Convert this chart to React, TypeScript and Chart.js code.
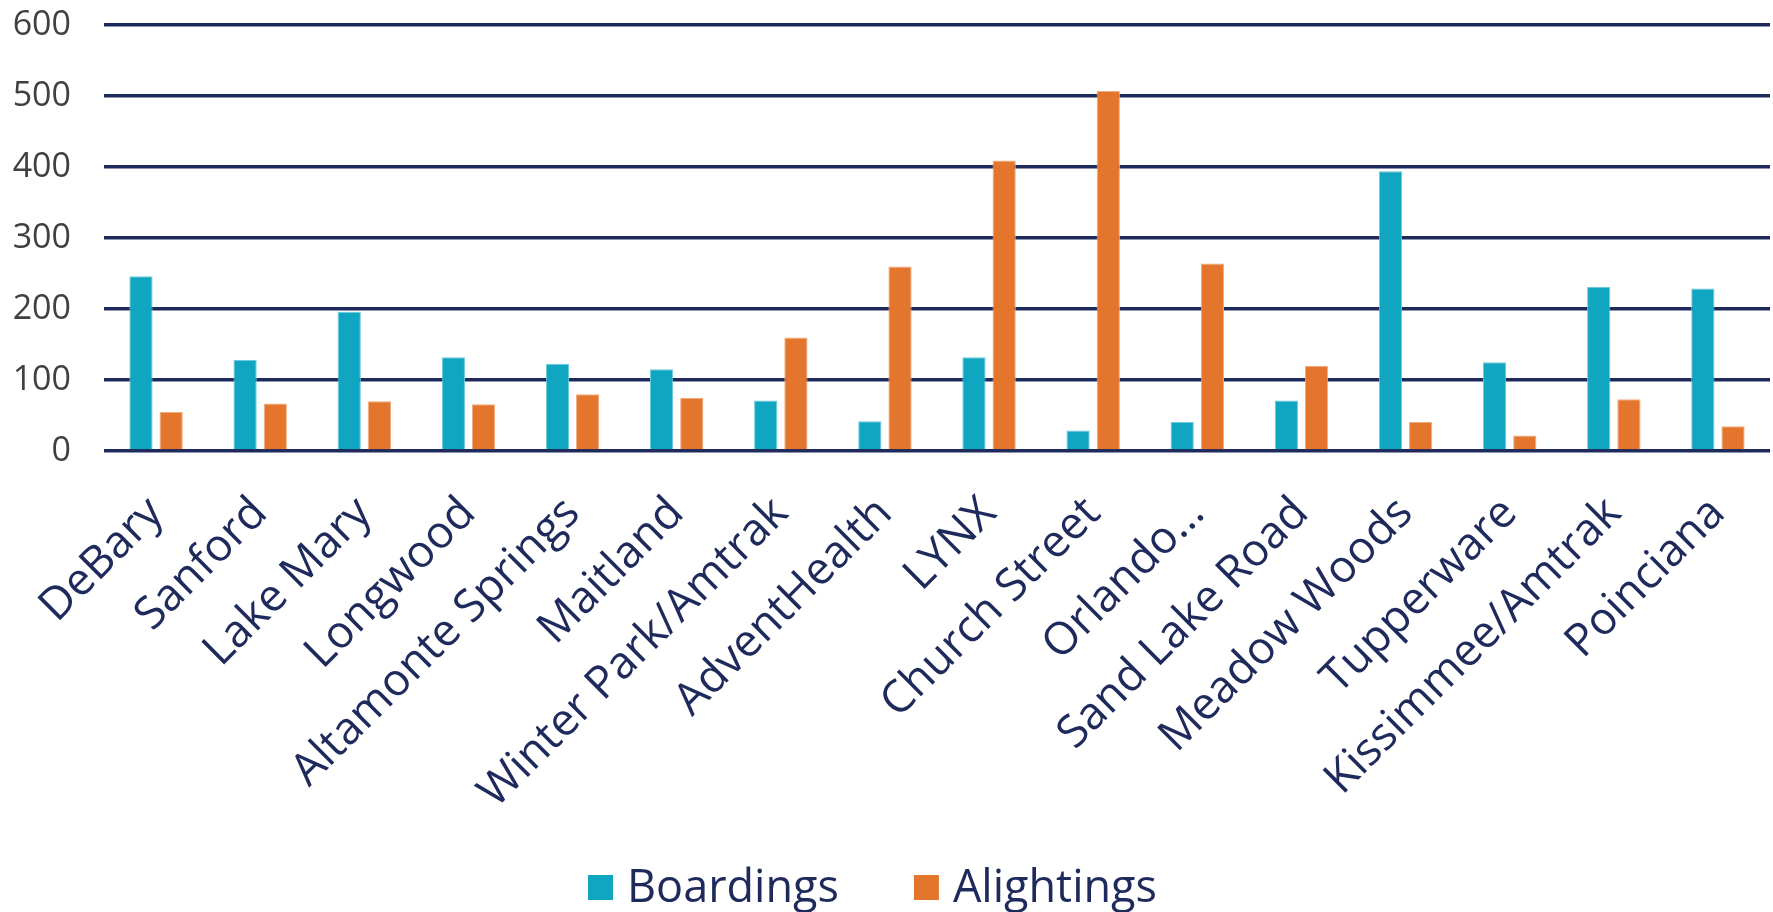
import React, { useEffect, useRef } from "react";
import { Chart, registerables } from "chart.js";

Chart.register(...registerables);

const stations = [
  "DeBary",
  "Sanford",
  "Lake Mary",
  "Longwood",
  "Altamonte Springs",
  "Maitland",
  "Winter Park/Amtrak",
  "AdventHealth",
  "LYNX",
  "Church Street",
  "Orlando…",
  "Sand Lake Road",
  "Meadow Woods",
  "Tupperware",
  "Kissimmee/Amtrak",
  "Poinciana",
];

const boardings = [246, 128, 196, 132, 123, 115, 71, 42, 132, 29, 41, 71, 394, 125, 231, 229];
const alightings = [55, 67, 70, 66, 80, 75, 160, 260, 409, 507, 264, 120, 41, 22, 73, 35];

const yTicks = [0, 100, 200, 300, 400, 500, 600];

const NAVY = "#1F2A5C";
const TEAL = "#10A6C1";
const TEAL_EDGE = "#6CCBDB";
const ORANGE = "#E4752C";
const ORANGE_EDGE = "#F0AC7E";
const FONT = "'Open Sans', 'DejaVu Sans', sans-serif";

// Legend drawn on the chart canvas from the datasets' own labels/colours
const legendPlugin = {
  id: "bottomLegend",
  afterDraw(chart: any) {
    const ctx = chart.ctx as CanvasRenderingContext2D;
    ctx.save();
    ctx.font = `45px ${FONT}`;
    const items = chart.data.datasets.map((ds: any) => ({
      text: ds.label as string,
      color: ds.backgroundColor as string,
      w: ctx.measureText(ds.label).width,
    }));
    const box = 25;
    const textGap = 14;
    const itemGap = 75;
    const total =
      items.reduce((s: number, it: any) => s + box + textGap + it.w, 0) + itemGap * (items.length - 1);
    let x = chart.width / 2 - 14 - total / 2;
    const boxTop = 875;
    const baseline = 902;
    items.forEach((it: any) => {
      ctx.fillStyle = it.color;
      ctx.fillRect(x, boxTop, box, box);
      x += box + textGap;
      ctx.fillStyle = NAVY;
      ctx.textAlign = "left";
      ctx.textBaseline = "alphabetic";
      ctx.fillText(it.text, x, baseline);
      x += it.w + itemGap;
    });
    ctx.restore();
  },
};

export default function App() {
  const ref = useRef<HTMLCanvasElement | null>(null);

  useEffect(() => {
    if (!ref.current) return;
    const chart = new Chart(ref.current, {
      type: "bar",
      data: {
        labels: stations,
        datasets: [
          {
            label: "Boardings",
            data: boardings,
            backgroundColor: TEAL,
            borderColor: TEAL_EDGE,
            borderWidth: { top: 1, left: 1, right: 1, bottom: 0 },
            borderSkipped: "start",
            categoryPercentage: 0.58,
            barPercentage: 0.77,
          },
          {
            label: "Alightings",
            data: alightings,
            backgroundColor: ORANGE,
            borderColor: ORANGE_EDGE,
            borderWidth: { top: 1, left: 1, right: 1, bottom: 0 },
            borderSkipped: "start",
            categoryPercentage: 0.58,
            barPercentage: 0.77,
          },
        ],
      },
      plugins: [legendPlugin],
      options: {
        responsive: false,
        animation: false,
        layout: { padding: { top: 25, right: 3, left: 0, bottom: 100 } },
        plugins: {
          tooltip: { enabled: false },
          legend: { display: false },
        },
        scales: {
          x: {
            grid: { display: false, drawTicks: false },
            border: { display: false },
            ticks: {
              autoSkip: false,
              maxRotation: 45,
              minRotation: 45,
              padding: 36,
              color: NAVY,
              font: { family: FONT, size: 45 },
            },
            afterFit: (scale: any) => {
              scale.height = 361;
              scale.paddingLeft = 0;
              scale.paddingRight = 0;
            },
          },
          y: {
            min: 0,
            max: 600,
            afterBuildTicks: (scale: any) => {
              scale.ticks = yTicks.map((v) => ({ value: v }));
            },
            grid: { color: NAVY, lineWidth: 3.5, drawTicks: false },
            border: { display: false },
            ticks: {
              padding: 33,
              color: "#404040",
              font: { family: FONT, size: 34 },
            },
            afterFit: (scale: any) => {
              scale.width = 104;
              scale.paddingTop = 0;
              scale.paddingBottom = 0;
            },
          },
        },
      },
    });
    return () => chart.destroy();
  }, []);

  return (
    <div style={{ position: "absolute", left: 0, top: 0, width: 1773, height: 912, background: "#fff" }}>
      <canvas ref={ref} width={1773} height={912} style={{ display: "block" }} />
    </div>
  );
}
